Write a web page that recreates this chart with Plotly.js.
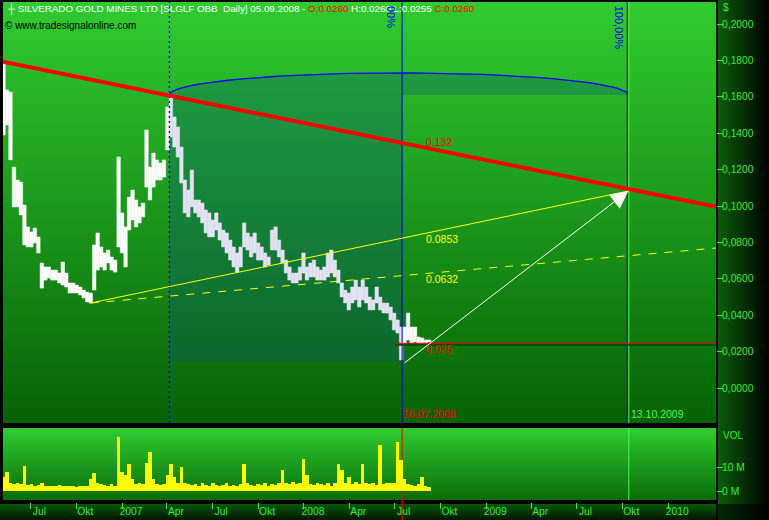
<!DOCTYPE html>
<html><head><meta charset="utf-8">
<script src="https://cdn.plot.ly/plotly-3.0.1.min.js"></script>
<style>html,body{margin:0;padding:0;background:#000;}#chart{width:769px;height:520px;}</style>
</head><body><div id="chart"></div>
<script>
// ---------- DATA ----------
const weekStart = '2006-05-08';          // first weekly bar (weekly bars, one per week)
const priceHigh = [0.1791,0.1637,0.1626,0.1214,0.1143,0.1132,0.1005,0.0885,0.0857,0.0879,
0.0830,0.0687,0.0665,0.0665,0.0648,0.0648,0.0632,0.0692,0.0632,0.0577,
0.0577,0.0566,0.0555,0.0538,0.0527,0.0522,0.0786,0.0852,0.0775,0.0742,
0.0758,0.0720,0.0703,0.1269,0.0962,0.0885,0.1049,0.1088,0.1033,0.0995,
0.1016,0.1418,0.1214,0.1291,0.1253,0.1236,0.1253,0.1544,0.1599,0.1489,
0.1434,0.1324,0.1143,0.1088,0.1198,0.1033,0.1033,0.1016,0.0978,0.0962,
0.0923,0.0962,0.0907,0.0868,0.0852,0.0813,0.0775,0.0742,0.0775,0.0907,
0.0852,0.0830,0.0852,0.0797,0.0775,0.0742,0.0720,0.0868,0.0885,0.0813,
0.0758,0.0703,0.0665,0.0632,0.0632,0.0665,0.0742,0.0665,0.0687,0.0703,
0.0665,0.0648,0.0665,0.0742,0.0758,0.0703,0.0648,0.0577,0.0538,0.0522,
0.0555,0.0593,0.0555,0.0593,0.0555,0.0500,0.0484,0.0555,0.0500,0.0467,
0.0467,0.0445,0.0412,0.0374,0.0335,0.0335,0.0412,0.0335,0.0335,0.0280,
0.0275,0.0264,0.0264];
const priceLow = [0.1390,0.1445,0.1253,0.0995,0.0995,0.0951,0.0786,0.0775,0.0775,0.0797,
0.0742,0.0549,0.0593,0.0604,0.0593,0.0593,0.0577,0.0566,0.0555,0.0522,
0.0522,0.0522,0.0511,0.0495,0.0473,0.0467,0.0538,0.0648,0.0665,0.0648,
0.0687,0.0648,0.0637,0.0775,0.0742,0.0665,0.0868,0.0923,0.0885,0.0907,
0.0940,0.1104,0.1033,0.1104,0.1143,0.1143,0.1159,0.1308,0.1379,0.1324,
0.1269,0.1126,0.0962,0.0940,0.0995,0.0962,0.0940,0.0907,0.0852,0.0830,
0.0830,0.0868,0.0813,0.0775,0.0742,0.0703,0.0665,0.0637,0.0665,0.0775,
0.0758,0.0720,0.0742,0.0703,0.0703,0.0665,0.0676,0.0758,0.0758,0.0720,
0.0687,0.0632,0.0593,0.0577,0.0577,0.0593,0.0632,0.0593,0.0610,0.0610,
0.0593,0.0593,0.0593,0.0610,0.0632,0.0610,0.0577,0.0500,0.0467,0.0429,
0.0467,0.0484,0.0445,0.0484,0.0467,0.0429,0.0429,0.0467,0.0429,0.0412,
0.0412,0.0374,0.0319,0.0302,0.0154,0.0247,0.0264,0.0247,0.0253,0.0247,
0.0247,0.0247,0.0253];
const volumeM = [6,8,3.5,2.8,3.5,2.8,10.6,2.5,2.8,2.2,
2.5,3.2,2.2,2.2,2,2.2,2.5,2,2.2,2,
2,1.8,2.2,2,2.2,5,7.8,3.5,2.8,2.5,
2.2,2.8,2.2,23,8,7,11.6,5,2.8,3.5,
2.8,12,16.5,5,2.8,2.5,2.8,7,11.6,6,
3.2,10,3.5,2.8,2.5,2.8,2.2,3.5,2.5,2.2,
3.5,2.5,2.2,2.5,3.2,2.2,2.5,2.2,2.8,11.6,
3.5,2.5,2.2,2.8,2.5,3.2,2.2,2.8,2.5,3.5,
9,3.5,2.8,4,2.8,3.2,13.5,7,2.8,2.5,
3.5,2.8,2.5,3.2,2.2,3.5,11.6,9,3.5,6,
2.8,4,2.8,11.6,3.5,2.8,3.5,2.5,19.6,2.8,
3.5,3.2,3.5,21,13,5,2.8,2.5,2.2,2.8,
5.8,2,1.8];

// drawing-tool anchors (dates / price levels)
const peakDate = '2007-04-06', peakPrice = 0.161;
const lowDate = '2006-10-30', lowPrice = 0.0467;
const cycleLowDate = '2008-07-16', cycleLowPrice = 0.0148;
const targetDate = '2009-10-13', targetPrice = 0.1082;
const arcHeight = 0.0121;
const trendStart = ['2006-05-07', 0.1793], trendEnd = ['2010-04-07', 0.0995];
const fanDashEnd = ['2010-04-07', 0.0769];
const arrowStart = ['2008-07-18', 0.0132];
const lastLevel = 0.0246;

const yTickVals = [0,0.02,0.04,0.06,0.08,0.10,0.12,0.14,0.16,0.18,0.20];
const yTickText = ['0,0000','0,0200','0,0400','0,0600','0,0800','0,1000','0,1200','0,1400','0,1600','0,1800','0,2000'];
const xTickVals = ['2006-07-01','2006-10-01','2007-01-01','2007-04-01','2007-07-01','2007-10-01','2008-01-01','2008-04-01','2008-07-01','2008-10-01','2009-01-01','2009-04-01','2009-07-01','2009-10-01','2010-01-01'];
const xTickText = ['Jul','Okt','2007','Apr','Jul','Okt','2008','Apr','Jul','Okt','2009','Apr','Jul','Okt','2010'];
const volTickVals = [0,10], volTickText = ['0 M','10 M'];

// ---------- build ----------
const DAY = 86400000;
const t0 = Date.parse(weekStart + 'T00:00:00Z');
const iso = ms => new Date(ms).toISOString().slice(0,10);
const weeks = priceHigh.map((_, i) => iso(t0 + i*7*DAY));
const span = priceHigh.map((h, i) => h - priceLow[i]);
const barColors = weeks.map(d => (d >= peakDate && d <= cycleLowDate) ? '#e2e2f2' : '#ffffff');

// semi-ellipse of the time-cycle tool (from peak to target, centred on the cycle low)
const a0 = Date.parse(peakDate+'T00:00:00Z'), a1 = Date.parse(targetDate+'T00:00:00Z');
const arcX = [], arcY = [];
for (let k = 0; k <= 60; k++) {
  const t = Math.PI * k / 60;
  arcX.push(new Date(a0 + (a1 - a0) * (1 - Math.cos(t)) / 2).toISOString());
  arcY.push(peakPrice + arcHeight * Math.sin(t));
}

// background canvas (panel gradients)
const W = 769, H = 520;
const cv = document.createElement('canvas'); cv.width = W; cv.height = H;
const c = cv.getContext('2d');
c.fillStyle = '#000'; c.fillRect(0,0,W,H);
let g = c.createLinearGradient(0,2,0,423);
g.addColorStop(0,'rgb(48,204,48)'); g.addColorStop(1,'rgb(6,98,6)');
c.fillStyle = g; c.fillRect(3,2,713,421);
g = c.createLinearGradient(0,428,0,500);
g.addColorStop(0,'rgb(48,204,48)'); g.addColorStop(1,'rgb(8,108,8)');
c.fillStyle = g; c.fillRect(3,428,713,72);
g = c.createLinearGradient(0,504,0,520);
g.addColorStop(0,'rgb(10,88,10)'); g.addColorStop(1,'rgb(1,22,1)');
c.fillStyle = g; c.fillRect(0,504,716,16);
g = c.createLinearGradient(718,0,769,0);
g.addColorStop(0,'rgb(10,92,10)'); g.addColorStop(1,'rgb(0,0,0)');
c.fillStyle = g; c.fillRect(718,0,51,504);
g = c.createLinearGradient(718,0,769,0);
g.addColorStop(0,'rgb(4,40,4)'); g.addColorStop(1,'rgb(0,0,0)');
c.fillStyle = g; c.fillRect(718,504,51,16);
const bgURL = cv.toDataURL('image/png');

const F = "'Liberation Sans', Arial, sans-serif";
const GREEN = '#33ee33';
const SHADE = 'rgba(10,80,125,0.3)';
const px = v => 1 - v / H;

const traces = [
  { type:'scatter', x: arcX, y: arcY, mode:'lines', fill:'toself', fillcolor:SHADE,
    line:{color:'#0000ff', width:1.3}, xaxis:'x', yaxis:'y', hoverinfo:'skip' },
  { type:'bar', x: weeks, base: priceLow, y: span, width: 7*DAY, xaxis:'x', yaxis:'y',
    marker:{color:barColors, line:{color:barColors, width:0.5}}, hoverinfo:'skip' },
  { type:'bar', x: weeks, y: volumeM, width: 7*DAY, xaxis:'x2', yaxis:'y2',
    marker:{color:'#ffff00', line:{width:0}}, hoverinfo:'skip' }
];

const shapes = [
  {type:'rect', xref:'x', yref:'y', x0:peakDate, x1:cycleLowDate, y0:cycleLowPrice, y1:peakPrice, fillcolor:SHADE, line:{width:0}, layer:'below'},
  {type:'line', xref:'x', yref:'y domain', x0:peakDate, x1:peakDate, y0:0, y1:1, line:{color:'#0000dd', width:1.3, dash:'2px,3px'}},
  {type:'line', xref:'x', yref:'y domain', x0:cycleLowDate, x1:cycleLowDate, y0:0, y1:1, line:{color:'#0000e0', width:1}},
  {type:'line', xref:'x', yref:'paper', x0:cycleLowDate, x1:cycleLowDate, y0:0, y1:px(428), line:{color:'#ff0000', width:1}, layer:'below'},
  {type:'line', xref:'x', yref:'y domain', x0:'2009-10-11', x1:'2009-10-11', y0:0, y1:1, line:{color:'#0000e0', width:1}},
  {type:'line', xref:'x', yref:'y domain', x0:'2009-10-14', x1:'2009-10-14', y0:0, y1:1, line:{color:'#44ff44', width:1}},
  {type:'line', xref:'x', yref:'y2 domain', x0:'2009-10-14', x1:'2009-10-14', y0:0, y1:1, line:{color:'#44ff44', width:1}, layer:'below'},
  {type:'line', xref:'x', yref:'y', x0:trendStart[0], y0:trendStart[1], x1:trendEnd[0], y1:trendEnd[1], line:{color:'#ff0000', width:4}},
  {type:'line', xref:'x', yref:'y', x0:lowDate, y0:lowPrice, x1:targetDate, y1:targetPrice, line:{color:'#ffff00', width:1}},
  {type:'line', xref:'x', yref:'y', x0:lowDate, y0:lowPrice, x1:fanDashEnd[0], y1:fanDashEnd[1], line:{color:'#ffff00', width:1, dash:'8px,8px'}},
  {type:'line', xref:'x', yref:'y', x0:'2008-07-02', y0:lastLevel-0.0009, x1:trendEnd[0], y1:lastLevel-0.0009, line:{color:'#064a06', width:2}},
  {type:'line', xref:'x', yref:'y', x0:'2008-07-02', y0:lastLevel, x1:trendEnd[0], y1:lastLevel, line:{color:'#ff0000', width:1}}
];

const hdr = '<span style="color:#ffffff">┼ SILVERADO GOLD MINES LTD [SLGLF OBB  Daily] 05.09.2008 - </span>' +
  '<span style="color:#ff0000">O:0.0260</span><span style="color:#ffffff"> H:0.0260 L:0.0255 </span>' +
  '<span style="color:#ff0000">C:0.0260</span>';

const ann = [
  {xref:'paper', yref:'paper', x:5/W, y:px(1), xanchor:'left', yanchor:'top', text:hdr, showarrow:false, font:{family:F, size:9.8, color:'#ffffff'}},
  {xref:'paper', yref:'paper', x:3/W, y:px(18), xanchor:'left', yanchor:'top', text:'© www.tradesignalonline.com', showarrow:false, font:{family:F, size:10, color:'#000000'}},
  {xref:'paper', yref:'paper', x:721/W, y:px(8), xanchor:'left', yanchor:'middle', text:'$', showarrow:false, font:{family:F, size:10, color:GREEN}},
  {xref:'paper', yref:'paper', x:721/W, y:px(435), xanchor:'left', yanchor:'middle', text:'VOL', showarrow:false, font:{family:F, size:10, color:GREEN}},
  {xref:'x', yref:'y', x:'2008-08-29', y:0.1352, xanchor:'left', yanchor:'middle', text:'0.132', showarrow:false, font:{family:F, size:10.5, color:'#ff0000'}},
  {xref:'x', yref:'y', x:'2008-08-29', y:0.0819, xanchor:'left', yanchor:'middle', text:'0.0853', showarrow:false, font:{family:F, size:10.5, color:'#ffff00'}},
  {xref:'x', yref:'y', x:'2008-08-29', y:0.0599, xanchor:'left', yanchor:'middle', text:'0.0632', showarrow:false, font:{family:F, size:10.5, color:'#ffff00'}},
  {xref:'x', yref:'y', x:'2008-08-29', y:0.0214, xanchor:'left', yanchor:'middle', text:'0.025', showarrow:false, font:{family:F, size:10.5, color:'#ff0000'}},
  {xref:'x', yref:'paper', x:cycleLowDate, y:px(414), xanchor:'left', yanchor:'middle', xshift:-1, text:'16.07.2008', showarrow:false, font:{family:F, size:10.5, color:'#ff0000'}},
  {xref:'x', yref:'paper', x:targetDate, y:px(414), xanchor:'left', yanchor:'middle', xshift:1, text:'13.10.2009', showarrow:false, font:{family:F, size:10.5, color:'#44ff44'}},
  {xref:'x', yref:'paper', x:cycleLowDate, y:px(4), xanchor:'center', yanchor:'top', xshift:-11, textangle:90, text:'00%', showarrow:false, font:{family:F, size:11, color:'#0000ee'}},
  {xref:'x', yref:'paper', x:targetDate, y:px(4), xanchor:'center', yanchor:'top', xshift:-9, textangle:90, text:'100,00%', showarrow:false, font:{family:F, size:11, color:'#0000ee'}},
  {xref:'x', yref:'y', x:targetDate, y:targetPrice, axref:'x', ayref:'y', ax:arrowStart[0], ay:arrowStart[1], text:'', showarrow:true,
   arrowhead:2, arrowsize:3.5, arrowwidth:1, arrowcolor:'#fffff4'}
];

const xRange = [trendStart[0], trendEnd[0]];
const layout = {
  width: W, height: H, margin:{l:0,r:0,t:0,b:0},
  paper_bgcolor:'#000', plot_bgcolor:'rgba(0,0,0,0)',
  showlegend:false, bargap:0, barmode:'overlay',
  images:[{source:bgURL, xref:'paper', yref:'paper', x:0, y:1, sizex:1, sizey:1, xanchor:'left', yanchor:'top', sizing:'stretch', layer:'below'}],
  xaxis:{domain:[3/W, 716/W], range:xRange, type:'date', showgrid:false, zeroline:false, showticklabels:false, ticks:'', showline:false, anchor:'y'},
  yaxis:{domain:[px(423), px(2)], range:[-0.01923, 0.21209], side:'right', anchor:'x', showgrid:false, zeroline:false, showline:false,
    tickmode:'array', tickvals:yTickVals, ticktext:yTickText, ticks:'outside', ticklen:6, tickcolor:GREEN, tickwidth:1,
    ticklabelstandoff:-3, tickfont:{family:F, size:10.3, color:GREEN}},
  xaxis2:{domain:[3/W, 716/W], matches:'x', type:'date', anchor:'free', position:px(502), showgrid:false, zeroline:false, showline:false,
    tickmode:'array', tickvals:xTickVals, ticktext:xTickText, ticks:'outside', ticklen:6, tickcolor:GREEN, tickwidth:1,
    ticklabelshift:9, ticklabelstandoff:-6, tickfont:{family:F, size:10.3, color:GREEN}},
  yaxis2:{domain:[px(500), px(428)], range:[-3.83, 26.8], side:'right', anchor:'x2', showgrid:false, zeroline:false, showline:false,
    tickmode:'array', tickvals:volTickVals, ticktext:volTickText, ticks:'outside', ticklen:6, tickcolor:GREEN, tickwidth:1,
    ticklabelstandoff:-3, tickfont:{family:F, size:10.3, color:GREEN}},
  shapes: shapes, annotations: ann
};
Plotly.newPlot('chart', traces, layout, {staticPlot:true, displayModeBar:false});
</script></body></html>
